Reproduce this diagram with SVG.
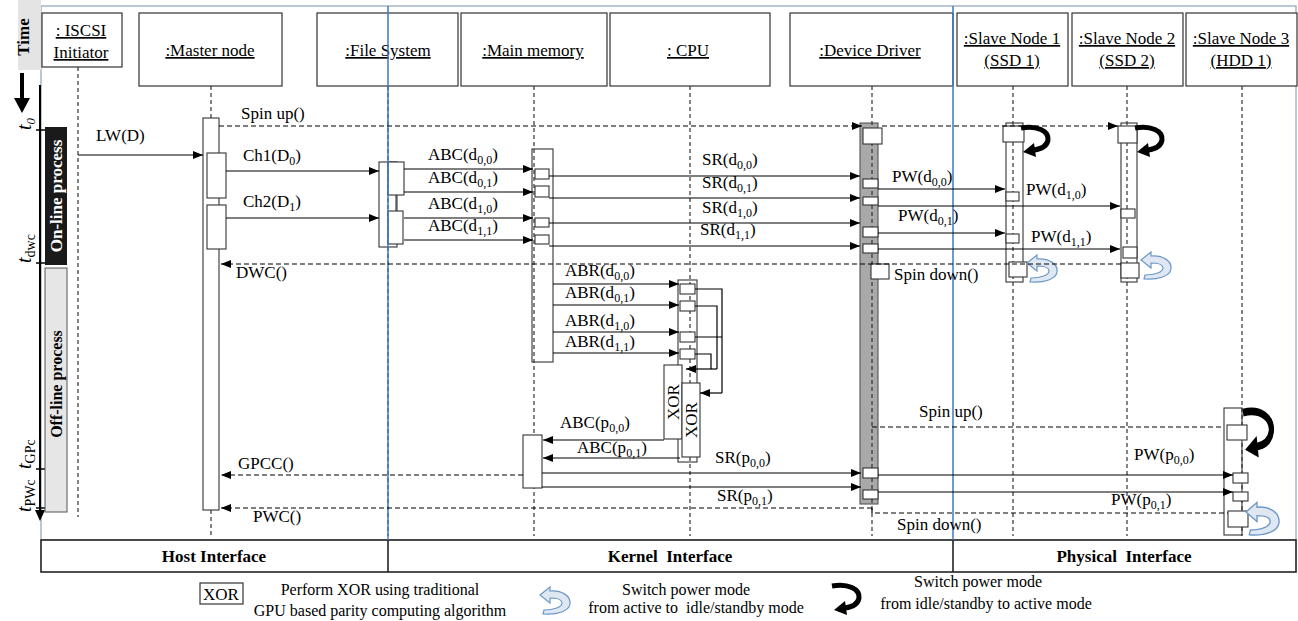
<svg xmlns="http://www.w3.org/2000/svg" width="1298" height="621" viewBox="0 0 1298 621">
<style>
text{font-family:"Liberation Serif","Times New Roman",serif;fill:#000}
.h{font-size:17px;text-decoration:underline;text-anchor:middle}
.l{font-size:17px}
.s{font-size:12px}
.b{font-weight:bold}
.box{fill:#fff;stroke:#333;stroke-width:1.2}
.act{fill:#fff;stroke:#333;stroke-width:1.1}
.life{stroke:#333;stroke-width:1.2;stroke-dasharray:4 3;fill:none}
.m{stroke:#000;stroke-width:1.2;fill:none;marker-end:url(#ah)}
.r{stroke:#000;stroke-width:1.2;fill:none;stroke-dasharray:5 3}
.ra{stroke:#000;stroke-width:1.2;fill:none;stroke-dasharray:5 3;marker-end:url(#ah)}
.blue{stroke:#3b78c2;stroke-width:1.5}
.pre{white-space:pre}
</style>
<defs>
<marker id="ah" markerWidth="10" markerHeight="8" refX="10" refY="4" orient="auto" markerUnits="userSpaceOnUse"><path d="M0,0 L10,4 L0,8 Z" fill="#000"/></marker>
<g id="onArrow"><path d="M0,3 C16,0 28,6 27,15 C26,21 20,24 13,25" fill="none" stroke="#000" stroke-width="5"/><path d="M2,27 L13,18 L15,32 Z" fill="#000"/></g>
<g id="offArrow"><path d="M0,10 L10,2 L10,6 C22,5 31,11 30,19 C29,26 18,30 3,29 L4,25 C14,25 22,22 22,18 C22,14 17,13 10,13 L10,18 Z" fill="#dfe8f2" stroke="#6d98c6" stroke-width="1.2"/></g>
</defs>
<rect width="1298" height="621" fill="#fff"/>

<!-- frame -->
<g id="frame">
<rect x="41" y="6" width="1255" height="534" fill="none" stroke="#8fa3b8" stroke-width="1.2"/>
<rect x="41" y="540" width="1255" height="32" fill="#fff" stroke="#222" stroke-width="1.6"/>
<line x1="388" y1="540" x2="388" y2="572" stroke="#222" stroke-width="1.6"/>
<line x1="953" y1="540" x2="953" y2="572" stroke="#222" stroke-width="1.6"/>
<text class="b" x="214" y="562" font-size="17" text-anchor="middle">Host Interface</text>
<text class="b pre" x="670" y="562" font-size="17" text-anchor="middle">Kernel  Interface</text>
<text class="b pre" x="1124" y="562" font-size="17" text-anchor="middle">Physical  Interface</text>
</g>

<!-- time axis -->
<g id="time">
<rect x="18" y="0" width="23" height="70" fill="#e4e4e4"/>
<text class="b" transform="translate(29,37) rotate(-90)" font-size="17" text-anchor="middle">Time</text>
<line x1="22" y1="73" x2="22" y2="100" stroke="#000" stroke-width="4"/>
<path d="M14,98 L30,98 L22,113 Z" fill="#000"/>
<line x1="40" y1="85" x2="40" y2="512" stroke="#000" stroke-width="2"/>
<path d="M35,510 L45,510 L40,521 Z" fill="#000"/>
<g stroke="#000" stroke-width="1.5">
<line x1="36" y1="130" x2="46" y2="130"/><line x1="36" y1="263" x2="46" y2="263"/>
<line x1="36" y1="469" x2="46" y2="469"/><line x1="36" y1="508" x2="46" y2="508"/>
</g>
<text transform="translate(31,130) rotate(-90)" font-size="20" font-style="italic">t<tspan font-size="13" dy="4">0</tspan></text>
<text transform="translate(31,263) rotate(-90)" font-size="20" font-style="italic">t<tspan font-size="14" font-style="normal" dy="4">dwc</tspan></text>
<text transform="translate(31,469) rotate(-90)" font-size="20" font-style="italic">t<tspan font-size="14" font-style="normal" dy="4">GPc</tspan></text>
<text transform="translate(31,512) rotate(-90)" font-size="20" font-style="italic">t<tspan font-size="14" font-style="normal" dy="4">PWc</tspan></text>
<rect x="45" y="127" width="22" height="138" fill="#1a1a1a"/>
<text class="b" transform="translate(62,196) rotate(-90)" font-size="17" text-anchor="middle" style="fill:#fff">On-line process</text>
<rect x="45" y="268" width="22" height="244" fill="#e6e6e6" stroke="#555" stroke-width="1"/>
<text class="b" transform="translate(62,384) rotate(-90)" font-size="16" text-anchor="middle">Off-line process</text>
</g>

<!-- nodes -->
<g id="iscsi">
<rect class="box" x="42" y="13" width="80" height="54"/>
<text class="h" x="81" y="36">: ISCSI</text>
<text class="h" x="81" y="58">Initiator</text>
<path class="life" d="M78,67 V517"/>
</g>

<g id="master">
<rect class="box" x="139" y="13" width="143" height="73"/>
<text class="h" x="210" y="56">:Master node</text>
<path class="life" d="M211,86 V118 M211,510 V536"/>
<rect class="act" x="203" y="118" width="16" height="392"/>
<rect class="act" x="207" y="153" width="19" height="45"/>
<rect class="act" x="207" y="205" width="19" height="44"/>
</g>

<g id="filesystem">
<rect class="box" x="317" y="13" width="141" height="73"/>
<text class="h" x="388" y="56">:File System</text>
<rect class="act" x="379" y="162" width="18" height="85"/>
<path class="life" d="M388,86 V536"/>
<rect class="act" x="388" y="162" width="16" height="33"/>
<rect class="act" x="388" y="211" width="15" height="33"/>
<line x1="396" y1="195" x2="396" y2="211" stroke="#333" stroke-width="1.1"/>
</g>

<g id="mainmemory">
<rect class="box" x="461" y="13" width="146" height="73"/>
<text class="h" x="533" y="56">:Main memory</text>
<rect class="act" x="532" y="149" width="21" height="213"/>
<path class="life" d="M534,86 V536"/>
<rect class="act" x="535" y="169" width="14" height="10"/>
<rect class="act" x="535" y="186" width="14" height="11"/>
<rect class="act" x="535" y="218" width="14" height="9"/>
<rect class="act" x="535" y="235" width="14" height="9"/>
<rect class="act" x="523" y="435" width="19" height="53"/>
</g>

<g id="cpu">
<rect class="box" x="610" y="13" width="160" height="73"/>
<text class="h" x="688" y="56">: CPU</text>
<rect class="act" x="678" y="280" width="19" height="182"/>
<path class="life" d="M690,86 V536"/>
<rect class="act" x="680" y="284" width="15" height="10"/>
<rect class="act" x="680" y="301" width="15" height="10"/>
<rect class="act" x="680" y="332" width="15" height="10"/>
<rect class="act" x="680" y="349" width="15" height="10"/>
<rect class="act" x="664" y="365" width="18" height="74"/>
<text transform="translate(679,402) rotate(-90)" font-size="17" text-anchor="middle">XOR</text>
<rect class="act" x="682" y="383" width="18" height="74"/>
<text transform="translate(697,420) rotate(-90)" font-size="17" text-anchor="middle">XOR</text>
</g>

<g id="devicedriver">
<rect class="box" x="790" y="13" width="163" height="73"/>
<text class="h" x="870" y="56">:Device Driver</text>
<rect x="860" y="123" width="18" height="381" fill="#a9a9a9" stroke="#555" stroke-width="1.1"/>
<path class="life" d="M872,86 V536"/>
<rect class="act" x="863" y="128" width="19" height="16"/>
<rect class="act" x="863" y="179" width="15" height="9"/>
<rect class="act" x="863" y="197" width="15" height="8"/>
<rect class="act" x="863" y="227" width="15" height="10"/>
<rect class="act" x="863" y="244" width="15" height="9"/>
<rect class="act" x="871" y="264" width="18" height="15"/>
<rect class="act" x="863" y="468" width="15" height="10"/>
<rect class="act" x="863" y="490" width="15" height="9"/>
</g>

<g id="slave1">
<rect class="box" x="957" y="13" width="111" height="73"/>
<text class="h" x="1012" y="44">:Slave Node 1</text>
<text class="h" x="1012" y="66">(SSD 1)</text>
<rect class="act" x="1006" y="123" width="17" height="159"/>
<path class="life" d="M1013,86 V536"/>
<rect class="act" x="1003" y="126" width="21" height="16"/>
<rect class="act" x="1006" y="192" width="13" height="9"/>
<rect class="act" x="1006" y="234" width="13" height="9"/>
<rect class="act" x="1009" y="262" width="18" height="15"/>
<use href="#onArrow" transform="translate(1021,125)"/>
<use href="#offArrow" transform="translate(1027,253)"/>
</g>

<g id="slave2">
<rect class="box" x="1072" y="13" width="111" height="73"/>
<text class="h" x="1127" y="44">:Slave Node 2</text>
<text class="h" x="1127" y="66">(SSD 2)</text>
<rect class="act" x="1121" y="123" width="16" height="159"/>
<path class="life" d="M1127,86 V536"/>
<rect class="act" x="1118" y="126" width="19" height="17"/>
<rect class="act" x="1121" y="209" width="14" height="9"/>
<rect class="act" x="1123" y="247" width="14" height="11"/>
<rect class="act" x="1121" y="263" width="18" height="15"/>
<use href="#onArrow" transform="translate(1135,125)"/>
<use href="#offArrow" transform="translate(1141,250)"/>
</g>

<g id="slave3">
<rect class="box" x="1186" y="13" width="111" height="73"/>
<text class="h" x="1241" y="44">:Slave Node 3</text>
<text class="h" x="1241" y="66">(HDD 1)</text>
<rect class="act" x="1224" y="408" width="18" height="127"/>
<path class="life" d="M1242,86 V536"/>
<rect class="act" x="1227" y="425" width="20" height="15"/>
<rect class="act" x="1233" y="473" width="15" height="10"/>
<rect class="act" x="1233" y="492" width="15" height="9"/>
<rect class="act" x="1228" y="511" width="20" height="16"/>
<use href="#onArrow" transform="translate(1243,408) scale(1.05,1.55)"/>
<use href="#offArrow" transform="translate(1246,500) scale(1.1,1.2)"/>
</g>

<!-- interface dividers -->
<g id="dividers">
<line class="blue" x1="388" y1="6" x2="388" y2="540"/>
<line class="blue" x1="953" y1="6" x2="953" y2="540"/>
</g>

<!-- connectors -->
<g id="connectors">
<path class="m" d="M78,155 H203"/>
<path class="ra" d="M219,126 H862"/>
<path class="ra" d="M882,126 H1118"/>
<path class="m" d="M226,171 H379"/>
<path class="m" d="M226,218 H379"/>
<path class="m" d="M404,169 H533"/>
<path class="m" d="M404,192 H533"/>
<path class="m" d="M404,218 H533"/>
<path class="m" d="M404,240 H533"/>
<path class="m" d="M549,176 H860"/>
<path class="m" d="M549,198 H860"/>
<path class="m" d="M549,223 H860"/>
<path class="m" d="M549,246 H860"/>
<path class="m" d="M878,189 H1005"/>
<path class="m" d="M878,206 H1120"/>
<path class="m" d="M878,233 H1005"/>
<path class="m" d="M878,249 H1120"/>
<path class="ra" d="M1121,264 H221"/>
<path class="m" d="M553,284 H679"/>
<path class="m" d="M553,305 H679"/>
<path class="m" d="M553,332 H679"/>
<path class="m" d="M553,353 H679"/>
<path d="M695,289 H722 V393 M695,337 H722 M695,306 H717 V369 M695,354 H711 V369" stroke="#000" stroke-width="1.2" fill="none"/>
<path class="m" d="M722,393 H700"/>
<path class="m" d="M717,369 H686"/>
<path class="m" d="M664,440 H543"/>
<path class="m" d="M680,458 H543"/>
<path class="m" d="M542,473 H861"/>
<path class="m" d="M542,487 H861"/>
<path class="ra" d="M523,475 H221"/>
<path class="r" d="M872,427 H1224"/>
<path class="m" d="M878,475 H1233"/>
<path class="m" d="M878,492 H1233"/>
<path class="ra" d="M872,508 H221"/>
<path class="r" d="M872,508 V513 H1228"/>

<text class="l" x="96" y="141">LW(D)</text>
<text class="l" x="241" y="119">Spin up()</text>
<text class="l" x="243" y="161">Ch1(D<tspan class="s" dy="4">0</tspan><tspan dy="-4">)</tspan></text>
<text class="l" x="243" y="207">Ch2(D<tspan class="s" dy="4">1</tspan><tspan dy="-4">)</tspan></text>
<text class="l" x="428" y="160">ABC(d<tspan class="s" dy="4">0,0</tspan><tspan dy="-4">)</tspan></text>
<text class="l" x="428" y="183">ABC(d<tspan class="s" dy="4">0,1</tspan><tspan dy="-4">)</tspan></text>
<text class="l" x="428" y="209">ABC(d<tspan class="s" dy="4">1,0</tspan><tspan dy="-4">)</tspan></text>
<text class="l" x="428" y="231">ABC(d<tspan class="s" dy="4">1,1</tspan><tspan dy="-4">)</tspan></text>
<text class="l" x="702" y="165">SR(d<tspan class="s" dy="4">0,0</tspan><tspan dy="-4">)</tspan></text>
<text class="l" x="702" y="188">SR(d<tspan class="s" dy="4">0,1</tspan><tspan dy="-4">)</tspan></text>
<text class="l" x="702" y="213">SR(d<tspan class="s" dy="4">1,0</tspan><tspan dy="-4">)</tspan></text>
<text class="l" x="700" y="235">SR(d<tspan class="s" dy="4">1,1</tspan><tspan dy="-4">)</tspan></text>
<text class="l" x="892" y="182">PW(d<tspan class="s" dy="4">0,0</tspan><tspan dy="-4">)</tspan></text>
<text class="l" x="1026" y="195">PW(d<tspan class="s" dy="4">1,0</tspan><tspan dy="-4">)</tspan></text>
<text class="l" x="898" y="221">PW(d<tspan class="s" dy="4">0,1</tspan><tspan dy="-4">)</tspan></text>
<text class="l" x="1031" y="242">PW(d<tspan class="s" dy="4">1,1</tspan><tspan dy="-4">)</tspan></text>
<text class="l" x="236" y="278">DWC()</text>
<text class="l" x="894" y="280">Spin down()</text>
<text class="l" x="565" y="276">ABR(d<tspan class="s" dy="4">0,0</tspan><tspan dy="-4">)</tspan></text>
<text class="l" x="565" y="298">ABR(d<tspan class="s" dy="4">0,1</tspan><tspan dy="-4">)</tspan></text>
<text class="l" x="565" y="326">ABR(d<tspan class="s" dy="4">1,0</tspan><tspan dy="-4">)</tspan></text>
<text class="l" x="565" y="347">ABR(d<tspan class="s" dy="4">1,1</tspan><tspan dy="-4">)</tspan></text>
<text class="l" x="560" y="428">ABC(p<tspan class="s" dy="4">0,0</tspan><tspan dy="-4">)</tspan></text>
<text class="l" x="577" y="453">ABC(p<tspan class="s" dy="4">0,1</tspan><tspan dy="-4">)</tspan></text>
<text class="l" x="715" y="463">SR(p<tspan class="s" dy="4">0,0</tspan><tspan dy="-4">)</tspan></text>
<text class="l" x="717" y="501">SR(p<tspan class="s" dy="4">0,1</tspan><tspan dy="-4">)</tspan></text>
<text class="l" x="238" y="469">GPCC()</text>
<text class="l" x="253" y="522">PWC()</text>
<text class="l" x="919" y="417">Spin up()</text>
<text class="l" x="1134" y="460">PW(p<tspan class="s" dy="4">0,0</tspan><tspan dy="-4">)</tspan></text>
<text class="l" x="1111" y="505">PW(p<tspan class="s" dy="4">0,1</tspan><tspan dy="-4">)</tspan></text>
<text class="l" x="897" y="530">Spin down()</text>
</g>

<!-- legend -->
<g id="legend">
<rect x="200" y="583" width="43" height="21" fill="#fff" stroke="#333" stroke-width="1.2"/>
<text x="221" y="600" font-size="17" text-anchor="middle">XOR</text>
<text x="380" y="595" font-size="16" text-anchor="middle">Perform XOR using traditional</text>
<text x="380" y="616" font-size="16" text-anchor="middle">GPU based parity computing algorithm</text>
<use href="#offArrow" transform="translate(540,585)"/>
<text x="686" y="595" font-size="16" text-anchor="middle">Switch power mode</text>
<text class="pre" x="696" y="613" font-size="16" text-anchor="middle">from active to  idle/standby mode</text>
<use href="#onArrow" transform="translate(832,583)"/>
<text x="978" y="587" font-size="16" text-anchor="middle">Switch power mode</text>
<text x="986" y="609" font-size="16" text-anchor="middle">from idle/standby to active mode</text>
</g>
</svg>
